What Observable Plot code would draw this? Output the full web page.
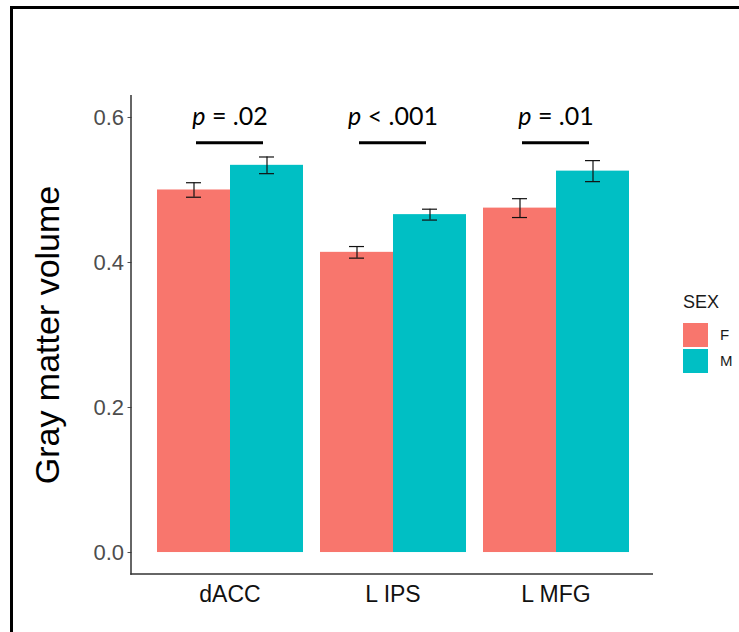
<!DOCTYPE html>
<html><head><meta charset="utf-8">
<script src="https://cdn.jsdelivr.net/npm/d3@7"></script>
<script src="https://cdn.jsdelivr.net/npm/@observablehq/plot@0.6"></script>
<style>
body{margin:0;background:#fff;font-family:"Liberation Sans",Arial,sans-serif;}
#wrap{position:relative;width:739px;height:632px;overflow:hidden;background:#fff;}
#border{position:absolute;left:10px;top:6px;right:-10px;bottom:-10px;border-left:3px solid #000;border-top:3px solid #000;}
#chart{position:absolute;left:0;top:0;}
#legend{position:absolute;left:683px;top:291px;font-family:"Liberation Sans",Arial,sans-serif;color:#1a1a1a;}
#legend .title{font-size:18px;line-height:22px;margin-bottom:9px;}
#legend .row{display:flex;align-items:center;height:25px;margin-bottom:1px;}
#legend .key{width:25px;height:24px;}
#legend .lab{font-size:15px;margin-left:12px;}
</style></head><body>
<div id="wrap"><div id="border"></div><div id="chart"></div><div id="legend"></div></div>
<script>
const regions = ["dACC", "L IPS", "L MFG"];
const sexes = ["F", "M"];
const meanF = [0.500, 0.414, 0.475];
const meanM = [0.534, 0.466, 0.526];
const seF = [0.010, 0.008, 0.013];
const seM = [0.0115, 0.0075, 0.0145];
const pLabels = ["p = .02", "p < .001", "p = .01"];
const pTextY = 0.601;
const pLineY = 0.565;
const yTicks = [0, 0.2, 0.4, 0.6];
const colors = ["#F8766D", "#00BFC4"];

const data = regions.flatMap((r, i) => [
  {region: r, sex: "F", mean: meanF[i], se: seF[i]},
  {region: r, sex: "M", mean: meanM[i], se: seM[i]}
]);
const sig = regions.map((r, i) => ({region: r, label: pLabels[i], textY: pTextY, lineY: pLineY}));

const W = 739, H = 632, ML = 131, MR = 86, MT = 95, MB = 58;
// offset of the first facet from the panel's left edge (ggplot's 0.6-unit expansion)
const step = (W - ML - MR) / (regions.length - 0.1 + 0.3);
const outer = 0.15 * step;

const plot = Plot.plot({
  width: W, height: H,
  marginLeft: ML, marginRight: MR, marginTop: MT, marginBottom: MB,
  style: {fontFamily: "'Liberation Sans', Arial, sans-serif", background: "transparent", overflow: "visible"},
  fx: {domain: regions, paddingInner: 0.1, paddingOuter: 0.15, label: null},
  x: {domain: sexes, padding: 0, axis: null},
  y: {domain: [-0.0303, 0.6303], label: null},
  color: {domain: sexes, range: colors},
  marks: [
    Plot.barY(data, {fx: "region", x: "sex", y: "mean", fill: "sex"}),
    Plot.ruleX(data, {fx: "region", x: "sex", y1: d => d.mean - d.se, y2: d => d.mean + d.se, stroke: "#111", strokeWidth: 1.2}),
    Plot.tickY(data, {fx: "region", x: "sex", y: d => d.mean + d.se, insetLeft: 29, insetRight: 29, stroke: "#111", strokeWidth: 1.2}),
    Plot.tickY(data, {fx: "region", x: "sex", y: d => d.mean - d.se, insetLeft: 29, insetRight: 29, stroke: "#111", strokeWidth: 1.2}),
    Plot.ruleY(sig, {fx: "region", y: "lineY", insetLeft: 40, insetRight: 40, stroke: "#000", strokeWidth: 3}),
    Plot.text(sig, {fx: "region", y: "textY", text: "label", fontSize: 25, fill: "#000", className: "ptext",
      fontFamily: "Lato, 'Liberation Sans', sans-serif"}),
    Plot.axisY({ticks: yTicks, tickFormat: d3.format(".1f"), tickSize: 4, tickPadding: 4, fontSize: 22,
      color: "#4D4D4D", dx: -outer, label: "Gray matter volume", labelArrow: "none",
      labelAnchor: "center", labelOffset: 122}),
    Plot.axisFx({anchor: "bottom", tickSize: 0, tickPadding: 11, fontSize: 23, color: "#111", label: null})
  ]
});
document.getElementById("chart").appendChild(plot);

// axis lines of the panel, from the plot's y scale
const ys = plot.scale("y");
const svg = d3.select(plot);
const yTop = ys.apply(ys.domain[1]), yBot = ys.apply(ys.domain[0]);
const ax = svg.append("g").attr("stroke", "#333").attr("stroke-width", 1.5).attr("fill", "none");
ax.append("line").attr("x1", ML).attr("x2", ML).attr("y1", yTop).attr("y2", yBot + 0.75);
ax.append("line").attr("x1", ML - 0.75).attr("x2", W - MR).attr("y1", yBot).attr("y2", yBot);

// italic "p" in significance labels
svg.selectAll(".ptext text").each(function() {
  const t = d3.select(this);
  const s = t.text();
  t.text(null);
  t.append("tspan").attr("font-style", "italic").text(s.slice(0, 1));
  t.append("tspan").text(s.slice(1));
});
// y label styling
svg.selectAll("[aria-label='y-axis label'] text, [aria-label='y-axis label']")
  .attr("font-size", 34).attr("fill", "#000");

// legend
const cs = plot.scale("color");
const lg = d3.select("#legend");
lg.append("div").attr("class", "title").text("SEX");
cs.domain.forEach((k, i) => {
  const row = lg.append("div").attr("class", "row");
  row.append("div").attr("class", "key").style("background", cs.range[i]);
  row.append("div").attr("class", "lab").text(k);
});
</script>
</body></html>
